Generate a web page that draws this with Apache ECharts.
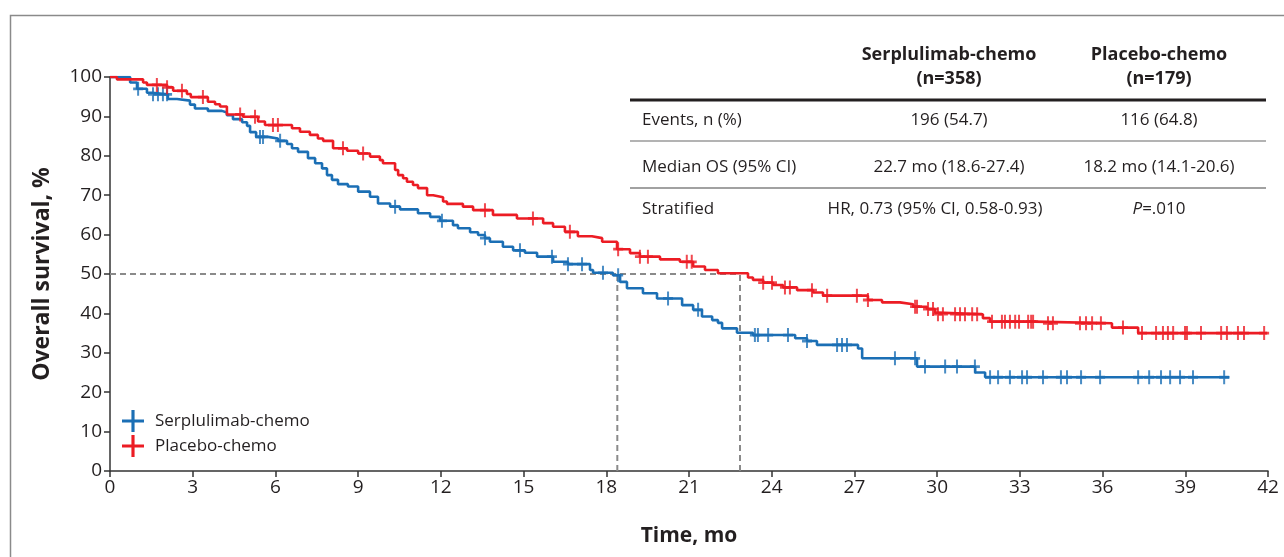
<!DOCTYPE html>
<html>
<head>
<meta charset="utf-8">
<script src="https://cdn.jsdelivr.net/npm/echarts@6/dist/echarts.min.js"></script>
<style>
  html, body { margin: 0; padding: 0; background: #fff; }
  #box { width: 1284px; height: 557px; }
</style>
</head>
<body>
<div id="box"></div>
<script>
// KM steps: time (mo) where the curve drops, and survival (%) after it
var blueTimes = [0, 0.73, 0.98, 1.34, 1.52, 2.10, 2.43, 2.90, 3.08, 3.55, 4.06, 4.24, 4.46, 4.79, 4.97, 5.08, 5.30, 5.73, 6.09, 6.42, 6.60, 6.82, 7.18, 7.44, 7.69, 7.87, 8.05, 8.27, 8.63, 9.00, 9.43, 9.72, 10.16, 10.52, 11.17, 11.61, 11.97, 12.44, 12.62, 13.06, 13.35, 13.60, 13.78, 14.25, 14.62, 15.05, 15.49, 16.07, 16.61, 17.41, 17.52, 18.24, 18.50, 18.75, 19.33, 19.84, 20.75, 21.15, 21.47, 21.84, 22.05, 22.20, 22.74, 23.32, 24.85, 25.28, 25.64, 27.13, 27.28, 29.27, 31.38, 31.74, 40.6];
var blueSurv  = [100, 98.6, 97.0, 96.0, 95.6, 94.4, 94.0, 93.0, 92.0, 91.4, 91.0, 90.3, 89.3, 88.5, 87.6, 86.0, 84.8, 84.4, 83.8, 83.0, 81.9, 81.0, 79.4, 78.1, 76.8, 75.1, 73.9, 72.8, 72.2, 70.9, 69.6, 67.9, 67.1, 66.4, 65.4, 64.5, 63.5, 62.4, 61.6, 60.6, 59.9, 59.1, 58.2, 56.9, 56.0, 55.4, 54.4, 53.1, 52.5, 51.0, 50.3, 49.7, 48.0, 46.4, 45.1, 43.8, 42.1, 40.9, 39.2, 38.3, 37.6, 36.2, 35.1, 34.5, 33.7, 33.0, 32.0, 31.1, 28.6, 26.5, 25.0, 23.8, 23.8];
var blueCensor = [1.02, 1.56, 1.74, 1.92, 2.07, 5.44, 5.55, 6.17, 10.34, 12.04, 13.60, 14.87, 16.03, 16.61, 17.12, 17.88, 18.43, 20.24, 21.33, 23.39, 23.50, 23.87, 24.59, 25.28, 26.37, 26.55, 26.73, 28.47, 29.20, 29.56, 30.29, 30.72, 31.37, 31.92, 32.21, 32.64, 33.08, 33.26, 33.84, 34.49, 34.71, 35.22, 35.91, 37.29, 37.69, 38.12, 38.45, 38.81, 39.28, 40.41];

var redTimes = [0, 0.25, 1.20, 1.34, 2.07, 2.29, 2.79, 2.93, 3.55, 3.81, 3.99, 4.24, 4.82, 5.37, 5.62, 6.60, 6.89, 7.25, 7.54, 7.73, 8.09, 8.60, 9.00, 9.43, 9.79, 9.90, 10.34, 10.45, 10.63, 10.77, 10.99, 11.17, 11.50, 11.72, 12.08, 12.22, 12.80, 13.17, 13.89, 14.76, 15.71, 16.07, 16.50, 16.97, 17.48, 17.85, 18.39, 18.86, 19.22, 19.95, 20.67, 21.15, 21.58, 22.05, 23.14, 23.32, 23.69, 24.05, 24.41, 24.92, 25.50, 25.86, 27.49, 28.00, 28.65, 29.13, 29.63, 29.92, 30.03, 31.66, 31.92, 33.55, 36.34, 37.29, 41.97];
var redSurv  = [100, 99.4, 98.6, 98.0, 97.4, 96.5, 95.7, 94.9, 93.7, 93.1, 92.5, 90.5, 89.9, 88.7, 87.8, 87.0, 86.1, 85.3, 84.4, 83.8, 81.9, 81.3, 80.6, 79.8, 78.9, 78.1, 76.4, 75.1, 74.3, 73.4, 72.6, 71.8, 70.0, 69.5, 68.4, 67.8, 67.1, 66.2, 65.0, 64.1, 62.9, 62.0, 60.7, 59.6, 59.1, 58.2, 56.3, 55.3, 54.4, 53.7, 53.1, 51.9, 51.0, 50.2, 49.1, 48.5, 47.8, 47.2, 46.6, 45.9, 45.3, 44.5, 43.4, 42.8, 42.3, 41.7, 41.1, 40.2, 39.8, 38.8, 37.9, 37.5, 36.4, 35.0, 35.0];
var redCensor = [1.70, 2.07, 2.61, 3.37, 4.72, 5.26, 5.91, 6.09, 8.45, 9.18, 13.60, 15.34, 16.68, 18.43, 19.22, 19.51, 20.92, 21.10, 23.69, 24.01, 24.48, 24.66, 25.46, 26.01, 27.09, 27.49, 29.20, 29.27, 29.67, 29.85, 30.03, 30.21, 30.65, 30.83, 31.01, 31.27, 31.45, 31.99, 32.35, 32.46, 32.64, 32.83, 32.97, 33.30, 33.41, 33.48, 34.02, 34.20, 35.18, 35.40, 35.62, 35.94, 36.74, 37.43, 37.94, 38.19, 38.37, 38.56, 38.99, 39.06, 39.57, 40.30, 40.51, 40.91, 41.13, 41.86];

var seriesNames = ['Serplulimab-chemo', 'Placebo-chemo'];
var medianTimes = [18.4, 22.85];   // where the dashed guides drop from 50%
var xTicks = { min: 0, max: 42, step: 3 };
var yTicks = { min: 0, max: 100, step: 10 };

var tableHead = [['Serplulimab-chemo', '(n=358)'], ['Placebo-chemo', '(n=179)']];
var tableRowLabels = ['Events, n (%)', 'Median OS (95% CI)', 'Stratified'];
var tableCol1 = ['196 (54.7)', '22.7 mo (18.6-27.4)', 'HR, 0.73 (95% CI, 0.58-0.93)'];
var tableCol2 = ['116 (64.8)', '18.2 mo (14.1-20.6)', '{i|P}=.010'];

var BLUE = '#1b6fb5';
var RED = '#ec1c24';
var TXT = '#231f20';
var FONT = '"Open Sans", "Noto Sans", sans-serif';

function pairs(ts, ss) {
    var out = [];
    for (var i = 0; i < ts.length; i++) out.push([ts[i], ss[i]]);
    return out;
}
// censor marks sit on the curve
function onCurve(ts, ss, cens) {
    return cens.map(function (c) {
        var s = ss[0];
        for (var i = 0; i < ts.length; i++) { if (ts[i] <= c) s = ss[i]; }
        return [c, s];
    });
}

var tick = 'path://M4,0 H6 V4 H10 V6 H6 V10 H4 V6 H0 V4 H4 Z';
var bigPlus = 'path://M9,0 H12 V9 H21 V12 H12 V21 H9 V12 H0 V9 H9 Z';

var myChart = echarts.init(document.getElementById('box'), null, { renderer: 'canvas' });

// table drawn as graphic text
var g = [];
g.push({ type: 'rect', left: 8, top: 13, silent: true, shape: { width: 1300, height: 600 },
         style: { fill: 'none', stroke: '#8a8a8a', lineWidth: 1.5 } });
var colX = [949, 1159];
for (var c = 0; c < 2; c++) {
    for (var r = 0; r < 2; r++) {
        g.push({ type: 'text', x: colX[c], y: 55 + r * 24, silent: true,
                 style: { text: tableHead[c][r], font: 'bold 18px ' + FONT, fill: TXT, align: 'center', verticalAlign: 'middle' } });
    }
}
var rowY = [120, 167, 209];
for (var k = 0; k < 3; k++) {
    g.push({ type: 'text', x: 642, y: rowY[k], silent: true,
             style: { text: tableRowLabels[k], font: '17px ' + FONT, fill: TXT, verticalAlign: 'middle' } });
    g.push({ type: 'text', x: k == 2 ? 935 : colX[0], y: rowY[k], silent: true,
             style: { text: tableCol1[k], font: '17px ' + FONT, fill: TXT, align: 'center', verticalAlign: 'middle' } });
    g.push({ type: 'text', x: colX[1], y: rowY[k], silent: true,
             style: { text: tableCol2[k], font: '17px ' + FONT, fill: TXT, align: 'center', verticalAlign: 'middle',
                      rich: { i: { fontStyle: 'italic', fontSize: 17, fontFamily: FONT, fill: TXT } } } });
}
g.push({ type: 'line', silent: true, shape: { x1: 630, y1: 100, x2: 1266, y2: 100 }, style: { stroke: TXT, lineWidth: 3 } });
g.push({ type: 'line', silent: true, shape: { x1: 630, y1: 141, x2: 1266, y2: 141 }, style: { stroke: '#9a9a9a', lineWidth: 1.5 } });
g.push({ type: 'line', silent: true, shape: { x1: 630, y1: 188, x2: 1266, y2: 188 }, style: { stroke: '#444', lineWidth: 1.2 } });

var dash = { color: '#8a8a8a', width: 2, type: [6, 4] };

var option = {
    animation: false,
    backgroundColor: '#fff',
    textStyle: { fontFamily: FONT },
    grid: { left: 110, right: 16, top: 77, bottom: 86, containLabel: false },
    legend: {
        orient: 'vertical', left: 117, top: 405, itemWidth: 22, itemHeight: 22, itemGap: 3,
        selectedMode: false,
        textStyle: { fontSize: 17, color: TXT, fontFamily: FONT, padding: [0, 0, 0, 6] },
        data: [{ name: seriesNames[0], icon: bigPlus }, { name: seriesNames[1], icon: bigPlus }]
    },
    xAxis: {
        type: 'value', min: xTicks.min, max: xTicks.max, interval: xTicks.step,
        name: 'Time, mo', nameLocation: 'middle', nameGap: 55,
        nameTextStyle: { fontSize: 21, fontWeight: 'bold', color: TXT, fontFamily: FONT },
        axisLine: { lineStyle: { color: '#333', width: 1.5 } },
        axisTick: { show: true, length: 6, lineStyle: { color: '#333', width: 1.5 } },
        axisLabel: { fontSize: 19, color: TXT, margin: 7 },
        splitLine: { show: false }
    },
    yAxis: {
        type: 'value', min: yTicks.min, max: yTicks.max, interval: yTicks.step,
        name: 'Overall survival, %', nameLocation: 'middle', nameGap: 56, nameRotate: 90,
        nameTextStyle: { fontSize: 23, fontWeight: 'bold', color: TXT, fontFamily: FONT },
        axisLine: { show: true, lineStyle: { color: '#333', width: 1.5 } },
        axisTick: { show: true, length: 6, lineStyle: { color: '#333', width: 1.5 } },
        axisLabel: { fontSize: 19, color: TXT, margin: 8 },
        splitLine: { show: false }
    },
    graphic: g,
    series: [
        { name: 'guide', type: 'line', silent: true, symbol: 'none', lineStyle: dash, z: 1,
          data: [[0, 50], [medianTimes[1], 50]] },
        { name: 'guide', type: 'line', silent: true, symbol: 'none', lineStyle: dash, z: 1,
          data: [[medianTimes[0], 0], [medianTimes[0], 50]] },
        { name: 'guide', type: 'line', silent: true, symbol: 'none', lineStyle: dash, z: 1,
          data: [[medianTimes[1], 0], [medianTimes[1], 50]] },
        { name: seriesNames[0], type: 'line', step: 'end', symbol: 'none', z: 3,
          itemStyle: { color: BLUE }, lineStyle: { color: BLUE, width: 2.6 },
          data: pairs(blueTimes, blueSurv) },
        { name: seriesNames[0], type: 'scatter', symbol: tick, symbolSize: [10, 14], z: 4,
          itemStyle: { color: BLUE }, data: onCurve(blueTimes, blueSurv, blueCensor) },
        { name: seriesNames[1], type: 'line', step: 'end', symbol: 'none', z: 3,
          itemStyle: { color: RED }, lineStyle: { color: RED, width: 2.6 },
          data: pairs(redTimes, redSurv) },
        { name: seriesNames[1], type: 'scatter', symbol: tick, symbolSize: [10, 14], z: 4,
          itemStyle: { color: RED }, data: onCurve(redTimes, redSurv, redCensor) }
    ]
};
myChart.setOption(option);
</script>
</body>
</html>
